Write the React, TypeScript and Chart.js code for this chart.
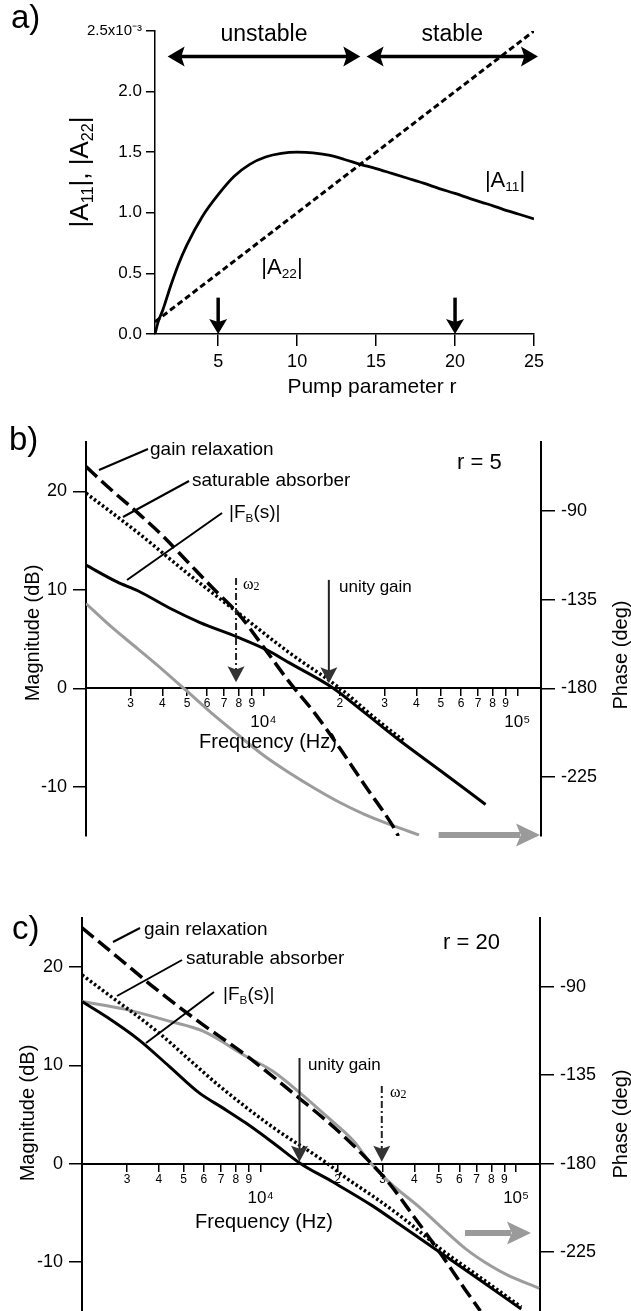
import React, { useEffect, useRef } from 'react';
import { Chart, registerables } from 'chart.js';

Chart.register(...registerables);

const SANS = '"Liberation Sans", Arial, Helvetica, sans-serif';
const SERIF = '"Liberation Serif", "Times New Roman", serif';
const PAGE_W = 631;

/* ---------------- panel a data (values in units of 10^-3) ---------------- */
const PUMP_R = [1, 1.2, 1.5, 2, 2.5, 3, 4, 5, 6, 7, 8, 9, 10, 11, 12, 13, 14, 15, 16, 17, 18, 19, 20, 21, 22, 23, 24, 25];
const A11_E3 = [0, 0.1, 0.2, 0.4, 0.58, 0.73, 0.97, 1.15, 1.3, 1.4, 1.46, 1.49, 1.5, 1.495, 1.475, 1.44, 1.4, 1.365, 1.325, 1.285, 1.245, 1.2, 1.16, 1.115, 1.075, 1.03, 0.99, 0.95];
const A22_R = [1, 25];
const A22_E3 = [0.1, 2.5];
const PUMP_TICKS = [5, 10, 15, 20, 25];
const A_TICKS = [0, 0.5, 1, 1.5, 2, 2.5];
const A_TICK_LABELS = ['0.0', '0.5', '1.0', '1.5', '2.0', '2.5x10⁻³'];
const MARKED_R = [5, 20];
const REGION_NAMES = ['unstable', 'stable'];
const REGION_FROM = [1.8, 14.4];
const REGION_TO = [14.0, 25.25];

/* ---------------- shared Bode axes ---------------- */
const F_MIN = 2000;
const F_MAX = 124000;
const FREQ_TICKS = [3000, 4000, 5000, 6000, 7000, 8000, 9000, 10000, 20000, 30000, 40000, 50000, 60000, 70000, 80000, 90000, 100000];
const FREQ_TICK_LABELS: (string | string[])[] = ['3', '4', '5', '6', '7', '8', '9', ['', '10⁴'], '2', '3', '4', '5', '6', '7', '8', '9', ['', '10⁵']];
const MAG_TICKS = [-10, 0, 10, 20];
const PHASE_TICKS = [-225, -180, -135, -90];

/* ---------------- panel b data (r = 5) ---------------- */
const B_GAIN_HZ = [2000, 2500, 3200, 4000, 5000, 6300, 8000, 10000, 12500, 16000, 20000, 25000, 32000, 34000];
const B_GAIN_DB = [22.5, 20.2, 17.8, 15.5, 12.9, 10.2, 7.5, 4.2, 0.8, -2.6, -6.1, -9.8, -13.8, -15.0];
const B_SAT_HZ = [2000, 3200, 5000, 8000, 12500, 20000, 28000, 36000];
const B_SAT_DB = [19.8, 15.8, 11.7, 7.6, 3.7, 0.0, -3.2, -5.4];
const B_FB_HZ = [2000, 2650, 3200, 4300, 5600, 7900, 10400, 12600, 18600, 25100, 33600, 50000, 75000];
const B_FB_DB = [12.5, 10.8, 9.9, 8.1, 6.7, 5.2, 3.85, 2.6, 0.1, -2.5, -5.1, -8.4, -11.8];
const B_PHASE_HZ = [2000, 2500, 3200, 4000, 5000, 6300, 8000, 10000, 12500, 16000, 20000, 25000, 32000, 41000];
const B_PHASE_DEG = [-137, -148.5, -160, -170.5, -181.5, -193, -204, -214, -222.5, -231, -238, -244, -249.5, -254.5];

/* ---------------- panel c data (r = 20) ---------------- */
const C_GAIN_HZ = [2000, 2820, 3880, 5620, 8790, 14260, 19950, 25120, 31620, 39810, 50120, 63100, 72440];
const C_GAIN_DB = [24.0, 20.8, 17.8, 14.6, 11.0, 6.6, 3.4, 0.9, -1.9, -5.4, -9.0, -12.8, -15.0];
const C_SAT_HZ = [2000, 2390, 4000, 5250, 6900, 11170, 18160, 21180, 28180, 36730, 44160, 50120, 70790, 104700];
const C_SAT_DB = [19.2, 17.7, 13.3, 10.6, 7.9, 3.7, 0.05, -1.3, -3.5, -5.7, -7.4, -8.6, -11.4, -14.6];
const C_FB_HZ = [2000, 2510, 3340, 4390, 5750, 7080, 8790, 11220, 14260, 18970, 27420, 35480, 50120, 70790, 104700];
const C_FB_DB = [16.5, 14.9, 12.6, 9.9, 7.2, 5.7, 4.1, 2.1, 0.05, -1.8, -4.3, -6.3, -9.0, -11.7, -14.8];
const C_PHASE_HZ = [2000, 2960, 4390, 5930, 8790, 11170, 14260, 18160, 23120, 26850, 31620, 42560, 50120, 63680, 79430, 91830, 123000];
const C_PHASE_DEG = [-97.5, -101.5, -107.5, -112.5, -125.5, -133, -144, -156, -168.5, -179.5, -189, -203, -211.5, -223.5, -232, -236.5, -243.5];

/* ---------------- helpers ---------------- */
type Seg = { t: string; sub?: boolean };

const pts = (xs: number[], ys: number[]) => xs.map((v, i) => ({ x: v, y: ys[i] }));

function text(ctx: CanvasRenderingContext2D, s: string, x: number, y: number, size: number, align: CanvasTextAlign, family = SANS) {
  ctx.font = `${size}px ${family}`;
  ctx.textAlign = align;
  ctx.textBaseline = 'middle';
  ctx.fillText(s, x, y);
}

function segs(ctx: CanvasRenderingContext2D, list: Seg[], x: number, y: number, size: number, align: 'left' | 'center', family = SANS) {
  const sub = size * 0.62;
  const widths = list.map((s) => {
    ctx.font = `${s.sub ? sub : size}px ${family}`;
    return ctx.measureText(s.t).width;
  });
  const total = widths.reduce((a, b) => a + b, 0);
  let cx = align === 'center' ? x - total / 2 : x;
  ctx.textAlign = 'left';
  ctx.textBaseline = 'middle';
  list.forEach((s, i) => {
    ctx.font = `${s.sub ? sub : size}px ${family}`;
    ctx.fillText(s.t, cx, s.sub ? y + size * 0.3 : y);
    cx += widths[i];
  });
}

function vtext(ctx: CanvasRenderingContext2D, s: string, cx: number, cy: number, size: number) {
  ctx.save();
  ctx.translate(cx, cy);
  ctx.rotate(-Math.PI / 2);
  text(ctx, s, 0, 0, size, 'center');
  ctx.restore();
}

function head(ctx: CanvasRenderingContext2D, tx: number, ty: number, angle: number, len: number, half: number, color: string) {
  ctx.save();
  ctx.translate(tx, ty);
  ctx.rotate(angle);
  ctx.beginPath();
  ctx.moveTo(0, 0);
  ctx.lineTo(-len, -half);
  ctx.lineTo(-len * 0.8, 0);
  ctx.lineTo(-len, half);
  ctx.closePath();
  ctx.fillStyle = color;
  ctx.fill();
  ctx.restore();
}

function seg(ctx: CanvasRenderingContext2D, x1: number, y1: number, x2: number, y2: number) {
  ctx.beginPath();
  ctx.moveTo(x1, y1);
  ctx.lineTo(x2, y2);
  ctx.stroke();
}

const zeroPad = (s: any) => {
  s.paddingTop = 0;
  s.paddingBottom = 0;
  s.paddingLeft = 0;
  s.paddingRight = 0;
};

/* ---------------- panel a ---------------- */
const panelAPlugin = {
  id: 'panelA',
  afterDraw(chart: any) {
    const { ctx } = chart;
    const x = chart.scales.x;
    const y = chart.scales.y;
    ctx.save();
    ctx.fillStyle = '#000';
    ctx.strokeStyle = '#000';
    text(ctx, 'a)', 11, 19, 33, 'left');
    ctx.save();
    ctx.translate(81, 172);
    ctx.rotate(-Math.PI / 2);
    segs(ctx, [{ t: '|A' }, { t: '11', sub: true }, { t: '|, |A' }, { t: '22', sub: true }, { t: '|' }], 0, 0, 26, 'center');
    ctx.restore();
    text(ctx, 'Pump parameter r', 372, 387, 21, 'center');
    const ay = y.getPixelForValue(2.29);
    REGION_NAMES.forEach((name, i) => {
      const x1 = x.getPixelForValue(REGION_FROM[i]);
      const x2 = x.getPixelForValue(REGION_TO[i]);
      ctx.lineWidth = 3.5;
      seg(ctx, x1 + 10, ay, x2 - 10, ay);
      head(ctx, x1, ay, Math.PI, 17, 10, '#000');
      head(ctx, x2, ay, 0, 17, 10, '#000');
      text(ctx, name, (x1 + x2) / 2, ay - 22, 23, 'center');
    });
    segs(ctx, [{ t: '|A' }, { t: '11', sub: true }, { t: '|' }], 505, 181, 22, 'center');
    segs(ctx, [{ t: '|A' }, { t: '22', sub: true }, { t: '|' }], 282, 268, 22, 'center');
    MARKED_R.forEach((r) => {
      const px = x.getPixelForValue(r);
      const top = y.getPixelForValue(0.3);
      const tip = y.getPixelForValue(0);
      ctx.lineWidth = 3.5;
      seg(ctx, px, top, px, tip - 10);
      head(ctx, px, tip, Math.PI / 2, 15, 9, '#000');
    });
    ctx.restore();
  },
};

function PanelA() {
  const ref = useRef<HTMLCanvasElement>(null);
  useEffect(() => {
    const chart = new Chart(ref.current as HTMLCanvasElement, {
      type: 'line',
      data: {
        datasets: [
          { label: '|A11|', data: pts(PUMP_R, A11_E3), borderColor: '#000', borderWidth: 2.8, pointRadius: 0, cubicInterpolationMode: 'monotone', fill: false },
          { label: '|A22|', data: pts(A22_R, A22_E3), borderColor: '#000', borderWidth: 3, borderDash: [6, 3.5], pointRadius: 0, fill: false },
        ],
      } as any,
      options: {
        animation: false,
        responsive: false,
        maintainAspectRatio: false,
        devicePixelRatio: 1,
        layout: { padding: { top: 31, right: 97, left: 0, bottom: 0 } },
        plugins: { legend: { display: false }, tooltip: { enabled: false } },
        scales: {
          x: {
            type: 'linear',
            min: 1,
            max: 25,
            afterBuildTicks: (s: any) => { s.ticks = PUMP_TICKS.map((v) => ({ value: v })); },
            afterFit: (s: any) => { s.height = 66; zeroPad(s); },
            grid: { drawOnChartArea: false, drawTicks: true, tickLength: 12, color: '#000', tickColor: '#000', lineWidth: 1.5 },
            border: { display: true, color: '#000', width: 1.5 },
            ticks: { color: '#000', font: { family: SANS, size: 18 }, padding: 5, maxRotation: 0, minRotation: 0, autoSkip: false },
          },
          y: {
            type: 'linear',
            min: 0,
            max: 2.5,
            afterBuildTicks: (s: any) => { s.ticks = A_TICKS.map((v) => ({ value: v })); },
            afterFit: (s: any) => { s.width = 155; zeroPad(s); },
            grid: { drawOnChartArea: false, drawTicks: true, tickLength: 9, color: '#000', tickColor: '#000', lineWidth: 1.5 },
            border: { display: true, color: '#000', width: 1.5 },
            ticks: {
              color: '#000',
              padding: 4,
              font: (c: any) => ({ family: SANS, size: c.tick && c.tick.value === 2.5 ? 15 : 17 }),
              callback: (_v: any, i: number) => A_TICK_LABELS[i],
            },
          },
        },
      } as any,
      plugins: [panelAPlugin],
    });
    return () => chart.destroy();
  }, []);
  return <canvas ref={ref} width={PAGE_W} height={400} style={{ position: 'absolute', left: 0, top: 0, width: PAGE_W, height: 400 }} />;
}

/* ---------------- Bode panels ---------------- */
interface BodeCfg {
  top: number;
  height: number;
  leftW: number;
  rightW: number;
  padTop: number;
  padBottom: number;
  label: string;
  labelPos: [number, number];
  rText: string;
  rPos: [number, number];
  gainHz: number[]; gainDb: number[];
  satHz: number[]; satDb: number[];
  fbHz: number[]; fbDb: number[];
  phHz: number[]; phDeg: number[];
  legend: { segs: Seg[]; pos: [number, number]; leader: [number, number, number, number] }[];
  magTitle: [number, number];
  phaseTitle: [number, number];
  freqTitle: [number, number];
  arrows: { hz: number; fromDb: number; toDb: number; omega: boolean; labelPos: [number, number] }[];
  grayArrow: { fromHz: number; toHz: number; db: number };
}

const LEGEND_GAIN: Seg[] = [{ t: 'gain relaxation' }];
const LEGEND_SAT: Seg[] = [{ t: 'saturable absorber' }];
const LEGEND_FB: Seg[] = [{ t: '|F' }, { t: 'B', sub: true }, { t: '(s)|' }];

const PANEL_B: BodeCfg = {
  top: 400, height: 450, leftW: 86, rightW: 90, padTop: 42, padBottom: 14,
  label: 'b)', labelPos: [9, 441], rText: 'r = 5', rPos: [457, 463],
  gainHz: B_GAIN_HZ, gainDb: B_GAIN_DB, satHz: B_SAT_HZ, satDb: B_SAT_DB,
  fbHz: B_FB_HZ, fbDb: B_FB_DB, phHz: B_PHASE_HZ, phDeg: B_PHASE_DEG,
  legend: [
    { segs: LEGEND_GAIN, pos: [150, 450], leader: [99, 470, 148, 449] },
    { segs: LEGEND_SAT, pos: [192, 481], leader: [123, 517, 189, 481] },
    { segs: LEGEND_FB, pos: [229, 513], leader: [127, 580, 222, 513] },
  ],
  magTitle: [33, 633], phaseTitle: [621, 655], freqTitle: [268, 742],
  arrows: [
    { hz: 7800, fromDb: 11.2, toDb: 0.6, omega: true, labelPos: [243, 585] },
    { hz: 18100, fromDb: 11, toDb: 0.5, omega: false, labelPos: [339, 587] },
  ],
  grayArrow: { fromHz: 49000, toHz: 122900, db: -14.9 },
};

const PANEL_C: BodeCfg = {
  top: 860, height: 451, leftW: 82, rightW: 91, padTop: 58, padBottom: 0,
  label: 'c)', labelPos: [12, 930], rText: 'r = 20', rPos: [443, 943],
  gainHz: C_GAIN_HZ, gainDb: C_GAIN_DB, satHz: C_SAT_HZ, satDb: C_SAT_DB,
  fbHz: C_FB_HZ, fbDb: C_FB_DB, phHz: C_PHASE_HZ, phDeg: C_PHASE_DEG,
  legend: [
    { segs: LEGEND_GAIN, pos: [144, 930], leader: [113, 942, 140, 928] },
    { segs: LEGEND_SAT, pos: [186, 959], leader: [117, 996, 182, 960] },
    { segs: LEGEND_FB, pos: [223, 995], leader: [146, 1043, 214, 992] },
  ],
  magTitle: [28, 1113], phaseTitle: [621, 1124], freqTitle: [264, 1222],
  arrows: [
    { hz: 14200, fromDb: 10.75, toDb: 0.2, omega: false, labelPos: [308, 1065] },
    { hz: 29800, fromDb: 7.9, toDb: 0.2, omega: true, labelPos: [390, 1093] },
  ],
  grayArrow: { fromHz: 63100, toHz: 114300, db: -7.05 },
};

function bodePlugin(cfg: BodeCfg) {
  return {
    id: 'bodeAnn',
    afterDraw(chart: any) {
      const { ctx } = chart;
      const x = chart.scales.x;
      const y = chart.scales.y;
      const T = cfg.top;
      ctx.save();
      ctx.fillStyle = '#000';
      ctx.strokeStyle = '#000';
      text(ctx, cfg.label, cfg.labelPos[0], cfg.labelPos[1] - T, 33, 'left');
      text(ctx, cfg.rText, cfg.rPos[0], cfg.rPos[1] - T, 22, 'left');
      cfg.legend.forEach((l) => {
        ctx.lineWidth = 2;
        seg(ctx, l.leader[0], l.leader[1] - T, l.leader[2], l.leader[3] - T);
        segs(ctx, l.segs, l.pos[0], l.pos[1] - T, 19, 'left');
      });
      vtext(ctx, 'Magnitude (dB)', cfg.magTitle[0], cfg.magTitle[1] - T, 20);
      vtext(ctx, 'Phase (deg)', cfg.phaseTitle[0], cfg.phaseTitle[1] - T, 20);
      text(ctx, 'Frequency (Hz)', cfg.freqTitle[0], cfg.freqTitle[1] - T, 20, 'center');
      cfg.arrows.forEach((a) => {
        const px = x.getPixelForValue(a.hz);
        const top = y.getPixelForValue(a.fromDb);
        const tip = y.getPixelForValue(a.toDb);
        ctx.strokeStyle = '#222';
        ctx.lineWidth = 2;
        ctx.setLineDash(a.omega ? [7, 3, 2, 3] : []);
        seg(ctx, px, top, px, tip - 12);
        ctx.setLineDash([]);
        head(ctx, px, tip, Math.PI / 2, 16, 8.5, '#333');
        ctx.fillStyle = '#000';
        if (a.omega) {
          text(ctx, 'ω', a.labelPos[0], a.labelPos[1] - T, 16, 'left', SERIF);
          ctx.font = `16px ${SERIF}`;
          const w = ctx.measureText('ω').width;
          text(ctx, '2', a.labelPos[0] + w, a.labelPos[1] - T + 2, 12, 'left', SERIF);
        } else {
          text(ctx, 'unity gain', a.labelPos[0], a.labelPos[1] - T, 17, 'left');
        }
      });
      const g = cfg.grayArrow;
      const gx1 = x.getPixelForValue(g.fromHz);
      const gx2 = x.getPixelForValue(g.toHz);
      const gy = y.getPixelForValue(g.db);
      ctx.strokeStyle = '#9a9a9a';
      ctx.lineWidth = 6;
      seg(ctx, gx1, gy, gx2 - 20, gy);
      head(ctx, gx2, gy, 0, 24, 11.5, '#9a9a9a');
      ctx.restore();
    },
  };
}

function BodePanel({ cfg }: { cfg: BodeCfg }) {
  const ref = useRef<HTMLCanvasElement>(null);
  useEffect(() => {
    const isDecade = (v: number) => v === 10000 || v === 100000;
    const chart = new Chart(ref.current as HTMLCanvasElement, {
      type: 'line',
      data: {
        datasets: [
          { label: 'gain relaxation', data: pts(cfg.gainHz, cfg.gainDb), yAxisID: 'y', borderColor: '#000', borderWidth: 3.5, borderDash: [15, 6], pointRadius: 0, cubicInterpolationMode: 'monotone', fill: false },
          { label: 'saturable absorber', data: pts(cfg.satHz, cfg.satDb), yAxisID: 'y', borderColor: '#000', borderWidth: 3.5, borderDash: [2.5, 2.5], pointRadius: 0, cubicInterpolationMode: 'monotone', fill: false },
          { label: '|F_B(s)|', data: pts(cfg.fbHz, cfg.fbDb), yAxisID: 'y', borderColor: '#000', borderWidth: 3, pointRadius: 0, cubicInterpolationMode: 'monotone', fill: false },
          { label: 'phase', data: pts(cfg.phHz, cfg.phDeg), yAxisID: 'y2', borderColor: '#9c9c9c', borderWidth: 3, pointRadius: 0, cubicInterpolationMode: 'monotone', fill: false },
        ],
      } as any,
      options: {
        animation: false,
        responsive: false,
        maintainAspectRatio: false,
        devicePixelRatio: 1,
        layout: { padding: { top: cfg.padTop, bottom: cfg.padBottom, left: 0, right: 0 } },
        plugins: { legend: { display: false }, tooltip: { enabled: false } },
        scales: {
          x: {
            type: 'logarithmic',
            min: F_MIN,
            max: F_MAX,
            position: { y: 0 },
            afterBuildTicks: (s: any) => { s.ticks = FREQ_TICKS.map((v) => ({ value: v, major: isDecade(v) })); },
            afterFit: (s: any) => zeroPad(s),
            grid: { drawOnChartArea: false, drawTicks: true, tickLength: 7, color: '#000', tickColor: '#000', lineWidth: 1.5 },
            border: { display: true, color: '#000', width: 2 },
            ticks: {
              autoSkip: false,
              maxRotation: 0,
              minRotation: 0,
              padding: 2,
              color: '#000',
              font: (c: any) => (c.tick && isDecade(c.tick.value) ? { family: SANS, size: 17, lineHeight: 1 } : { family: SANS, size: 12, lineHeight: 1.1 }),
              callback: (_v: any, i: number) => FREQ_TICK_LABELS[i],
            },
          },
          y: {
            type: 'linear',
            position: 'left',
            min: -15,
            max: 25,
            afterBuildTicks: (s: any) => { s.ticks = MAG_TICKS.map((v) => ({ value: v })); },
            afterFit: (s: any) => { s.width = cfg.leftW; zeroPad(s); },
            grid: { drawOnChartArea: false, drawTicks: true, tickLength: 13, color: '#000', tickColor: '#000', lineWidth: 1.5 },
            border: { display: true, color: '#000', width: 2 },
            ticks: { padding: 6, color: '#000', font: { family: SANS, size: 18 } },
          },
          y2: {
            type: 'linear',
            position: 'right',
            min: -255,
            max: -55,
            afterBuildTicks: (s: any) => { s.ticks = PHASE_TICKS.map((v) => ({ value: v })); },
            afterFit: (s: any) => { s.width = cfg.rightW; zeroPad(s); },
            grid: { drawOnChartArea: false, drawTicks: true, tickLength: 14, color: '#000', tickColor: '#000', lineWidth: 1.5 },
            border: { display: true, color: '#000', width: 2 },
            ticks: { padding: 6, color: '#000', font: { family: SANS, size: 18 } },
          },
        },
      } as any,
      plugins: [bodePlugin(cfg)],
    });
    return () => chart.destroy();
  }, [cfg]);
  return (
    <canvas
      ref={ref}
      width={PAGE_W}
      height={cfg.height}
      style={{ position: 'absolute', left: 0, top: cfg.top, width: PAGE_W, height: cfg.height }}
    />
  );
}

export default function App() {
  return (
    <div style={{ position: 'absolute', left: 0, top: 0, width: PAGE_W, height: 1311, background: '#fff', overflow: 'hidden' }}>
      <PanelA />
      <BodePanel cfg={PANEL_B} />
      <BodePanel cfg={PANEL_C} />
    </div>
  );
}
